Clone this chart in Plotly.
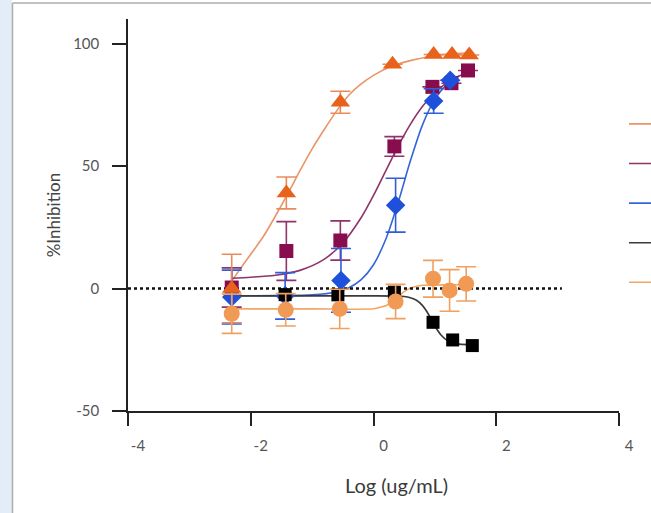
import plotly.graph_objects as go

# ---------------- data ----------------
# Orange triangles
tri_x = [-2.31, -1.42, -0.54, 0.31, 0.98, 1.28, 1.56]
tri_y = [0.0, 39.0, 76.0, 91.5, 95.5, 95.5, 95.3]
tri_err = [14, 6.5, 4.5, None, None, None, None]
tri_curve_x = [-2.31, -2.2, -2.0, -1.8, -1.6, -1.4, -1.2, -1.0, -0.8, -0.6, -0.4, -0.2, 0.0, 0.3, 0.6, 1.0, 1.3, 1.6]
tri_curve_y = [3, 7, 14, 21, 29.5, 38.5, 48, 57, 65, 72.5, 79, 83.5, 87, 90.8, 93, 95, 95.8, 96.2]

# Purple squares
sq_x = [-2.31, -1.42, -0.54, 0.34, 0.96, 1.27, 1.54]
sq_y = [0.4, 15.3, 19.6, 58.0, 82.3, 83.8, 89.0]
sq_err = [8, 12, 8, 4, None, None, None]
sq_curve_x = [-2.31, -2.0, -1.6, -1.2, -0.8, -0.5, -0.2, 0.0, 0.2, 0.4, 0.6, 0.8, 1.0, 1.2, 1.4, 1.56]
sq_curve_y = [4.2, 4.6, 5.4, 7.4, 12, 18.6, 29, 38, 48, 58, 67, 74.4, 80, 84, 86.8, 88.3]

# Blue diamonds
dia_x = [-2.31, -1.44, -0.53, 0.36, 0.98, 1.25]
dia_y = [-3.5, -3.0, 3.3, 34.0, 76.5, 85.0]
dia_err = [11, 9.5, 13, 11, 5, None]
dia_curve_x = [-2.31, -1.6, -1.0, -0.6, -0.4, -0.2, 0.0, 0.2, 0.4, 0.6, 0.8, 1.0, 1.2, 1.3]
dia_curve_y = [-3, -2.9, -2.6, -1.4, 0.3, 3.6, 9.7, 20.1, 35, 52, 66.9, 77.3, 83.4, 85.4]

# Black squares (error bars hidden behind the markers)
blk_x = [-1.44, -0.58, 0.34, 0.97, 1.29, 1.61]
blk_y = [-2.5, -2.6, -1.5, -13.8, -21.0, -23.3]
blk_err = [None, None, None, None, None, None]
blk_curve_x = [-2.31, -1.0, 0.0, 0.4, 0.5, 0.6, 0.7, 0.8, 0.9, 1.0, 1.1, 1.2, 1.3, 1.4, 1.61]
blk_curve_y = [-3, -3, -3, -3.1, -3.3, -3.8, -4.8, -7, -10.7, -15.3, -19, -21.2, -22.2, -22.7, -23]

# Light orange circles
cir_x = [-2.31, -1.43, -0.55, 0.36, 0.97, 1.24, 1.51]
cir_y = [-10.3, -8.7, -8.3, -5.3, 4.0, -0.8, 1.9]
cir_err = [8, 6.6, 8, 7, 7.5, 8.5, 7]
cir_curve_x = [-2.31, -1.0, 0.0, 0.1, 0.2, 0.3, 0.4, 0.5, 0.6, 0.7, 0.8, 1.2, 1.55]
cir_curve_y = [-8.3, -8.3, -8.3, -7.7, -7.0, -5.5, -3.4, -1.3, 0.15, 0.9, 1.3, 1.5, 1.5]

# zero reference line
zero_x = [-4, 3.07]
zero_y = [0, 0]

# legend labels are cut off at the right edge of the reference picture
series_names = ["", "", "", "", ""]
x_ticks = [-4, -2, 0, 2, 4]
x_tick_labels = ["-4", "-2", "0", "2", "4"]
y_ticks = [-50, 0, 50, 100]
y_tick_labels = ["-50", "0", "50", "100"]

# ---------------- figure ----------------
W, H = 651, 513
ML, MR, MT, MB = 128, 32, 19, 102
PW, PH = W - ML - MR, H - MT - MB


def px2paper_x(p):
    return (p - ML) / PW


def px2paper_y(p):
    return (H - MB - p) / PH


FONT = "Lato, 'Open Sans', sans-serif"

fig = go.Figure()

curve_specs = [
    (tri_curve_x, tri_curve_y, "#EA9468", series_names[0]),
    (sq_curve_x, sq_curve_y, "#8E3468", series_names[1]),
    (dia_curve_x, dia_curve_y, "#3566D6", series_names[2]),
    (blk_curve_x, blk_curve_y, "#3a3a3a", series_names[3]),
    (cir_curve_x, cir_curve_y, "#F0A865", series_names[4]),
]
for i, (cx, cy, col, nm) in enumerate(curve_specs):
    fig.add_trace(go.Scatter(
        x=cx, y=cy, mode="lines", line=dict(color=col, width=1.6, shape="spline", smoothing=0.8),
        name=nm, legendgroup=f"g{i}", showlegend=True, hoverinfo="skip"))

fig.add_trace(go.Scatter(x=zero_x, y=zero_y, mode="lines",
                         line=dict(color="#111111", width=2.5, dash="dot"),
                         showlegend=False, hoverinfo="skip"))

marker_specs = [
    (sq_x, sq_y, sq_err, "square", 14, "#880D4E", "#8E3468"),
    (dia_x, dia_y, dia_err, "diamond", 15, "#1E50DC", "#2F5FD8"),
    (blk_x, blk_y, blk_err, "square", 13, "#000000", "#222222"),
    (tri_x, tri_y, tri_err, "triangle-up", 17, "#E8621C", "#EA8A5C"),
    (cir_x, cir_y, cir_err, "circle", 16, "#F09A55", "#F0A060"),
]
for mx, my, me, sym, sz, col, ecol in marker_specs:
    has_err = any(v is not None for v in me)
    fig.add_trace(go.Scatter(
        x=mx, y=my, mode="markers",
        marker=dict(symbol=sym, size=sz, color=col, line=dict(width=0)),
        error_y=dict(type="data", array=me, visible=has_err, color=ecol, thickness=1.6, width=10),
        showlegend=False))

# page decoration (screenshot frame)
fig.add_shape(type="rect", xref="paper", yref="paper",
              x0=px2paper_x(-2), x1=px2paper_x(12), y0=px2paper_y(515), y1=px2paper_y(-2),
              fillcolor="#E3EDF8", line=dict(width=0), layer="below")
fig.add_shape(type="line", xref="paper", yref="paper",
              x0=px2paper_x(12.5), x1=px2paper_x(12.5), y0=px2paper_y(515), y1=px2paper_y(3),
              line=dict(color="#ADADAD", width=1.5))
fig.add_shape(type="line", xref="paper", yref="paper",
              x0=px2paper_x(12.5), x1=px2paper_x(655), y0=px2paper_y(3), y1=px2paper_y(3),
              line=dict(color="#ADADAD", width=1.5))

fig.add_annotation(text="Log (ug/mL)", xref="paper", yref="paper",
                   x=px2paper_x(396), y=px2paper_y(485), xanchor="center", yanchor="middle",
                   showarrow=False, font=dict(family=FONT, size=20, color="#3a3a3a"))

fig.update_layout(
    width=W, height=H,
    margin=dict(l=ML, r=MR, t=MT, b=MB, autoexpand=False),
    paper_bgcolor="white", plot_bgcolor="white",
    font=dict(family=FONT, color="#555555"),
    xaxis=dict(range=[-4, 4], tickvals=x_ticks, ticktext=x_tick_labels, ticks="outside",
               ticklen=13, tickwidth=1.5,
               tickcolor="#222222", showline=True, linecolor="#222222", linewidth=1.5,
               showgrid=False, zeroline=False, tickfont=dict(size=15, color="#555555"),
               ticklabelstandoff=7, ticklabelshift=10),
    yaxis=dict(range=[-50, 110], tickvals=y_ticks, ticktext=y_tick_labels, ticks="outside",
               ticklen=14, tickwidth=1.5,
               tickcolor="#222222", showline=True, linecolor="#222222", linewidth=1.5,
               showgrid=False, zeroline=False, tickfont=dict(size=15, color="#555555"),
               ticklabelstandoff=10,
               title=dict(text="%Inhibition", font=dict(size=17, color="#444444"), standoff=8)),
    legend=dict(x=px2paper_x(624), xanchor="left", y=px2paper_y(108.3), yanchor="top",
                bgcolor="rgba(0,0,0,0)", font=dict(size=14, color="#444444"),
                tracegroupgap=18.4),
    showlegend=True,
)

fig.write_html("out.html", config={"displayModeBar": False},
               post_script="document.body.style.margin='0';")
